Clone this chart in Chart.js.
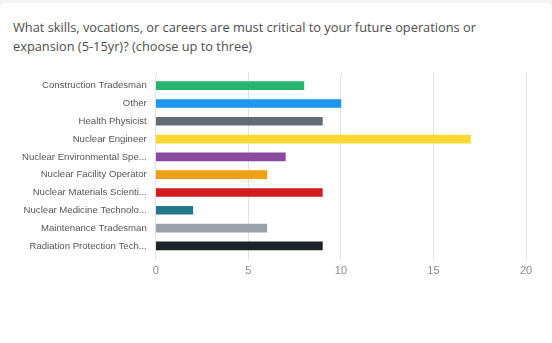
<!DOCTYPE html>
<html>
<head>
<meta charset="utf-8">
<script src="https://cdn.jsdelivr.net/npm/chart.js@4/dist/chart.umd.min.js"></script>
<style>
html, body { margin: 0; padding: 0; background: #f3f3f3; }
#card { position: absolute; left: 0; top: 3px; width: 552px; height: 340px; background: #fff; border-radius: 6px 6px 0 0; }
#title { position: absolute; left: 13px; top: 14.5px; width: 530px; font-family: "Open Sans", sans-serif; font-size: 12.8px; line-height: 19px; color: #4d4d4d; }
#wrap { position: absolute; left: 0; top: 62px; width: 552px; height: 281px; }
</style>
</head>
<body>
<div id="card">
	<div id="title">What skills, vocations, or careers are must critical to your future operations or<br>expansion (5-15yr)? (choose up to three)</div>
</div>
<div id="wrap"><canvas id="dataChart"></canvas></div>
<script>
const CATEGORIES = ['Construction Tradesman', 'Other', 'Health Physicist', 'Nuclear Engineer',
	'Nuclear Environmental Spe...', 'Nuclear Facility Operator', 'Nuclear Materials Scienti...',
	'Nuclear Medicine Technolo...', 'Maintenance Tradesman', 'Radiation Protection Tech...'];
const COUNTS = [8, 10, 9, 17, 7, 6, 9, 2, 6, 9];
const BARCOLORS = ['#27b46e', '#1d96ee', '#616c75', '#fcd932', '#8a4aa0', '#f0a012',
	'#d31a1c', '#23788a', '#9ca2a9', '#1c2329'];
const XTICKS = [0, 5, 10, 15, 20];

// grid lines reach a bit above the plot area in the reference
const gridTop = {
	id: 'gridTop',
	beforeDatasetsDraw(c) {
		let ctx = c.ctx, x = c.scales.x, top = c.chartArea.top;
		ctx.save();
		ctx.strokeStyle = '#e2e2e2';
		ctx.lineWidth = 1;
		for (let i = 0; i < XTICKS.length; i++) {
			let px = Math.round(x.getPixelForValue(XTICKS[i])) + 0.5;
			ctx.beginPath();
			ctx.moveTo(px, top - 5);
			ctx.lineTo(px, top);
			ctx.stroke();
		}
		ctx.restore();
	}
};

var chart = document.getElementById('dataChart').getContext('2d');
var myChart = new Chart(chart, {
	type: 'bar',
	data: {
		labels: CATEGORIES,
		datasets: [{
			data: COUNTS,
			backgroundColor: BARCOLORS,
			barThickness: 8
		}]
	},
	options: {
		indexAxis: 'y',
		responsive: true,
		maintainAspectRatio: false,
		animation: false,
		layout: { padding: { left: 13, right: 26, top: 11.8, bottom: 61 } },
		plugins: {
			legend: { display: false },
			tooltip: { enabled: false }
		},
		scales: {
			x: {
				min: 0,
				max: 20,
				afterBuildTicks: function(s) { s.ticks = XTICKS.map(v => ({ value: v })); },
				grid: { color: '#e2e2e2', tickLength: 5, drawTicks: true },
				border: { display: false },
				ticks: { color: '#8a8a8a', padding: 4.5, font: { family: 'Liberation Sans', size: 11 } }
			},
			y: {
				grid: { display: false, drawTicks: false },
				border: { display: false },
				ticks: { color: '#555', padding: 9, font: { family: 'Liberation Sans', size: 9.6 } }
			}
		}
	},
	plugins: [gridTop]
});
</script>
</body>
</html>
